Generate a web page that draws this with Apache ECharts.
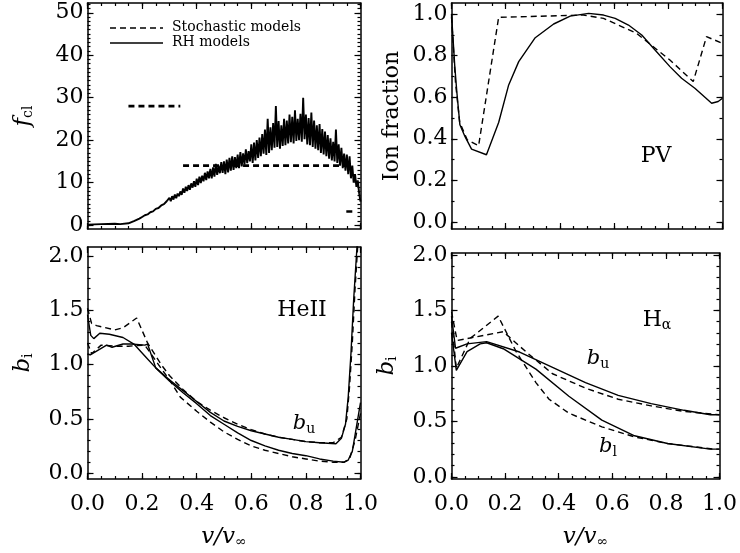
<!DOCTYPE html>
<html><head><meta charset="utf-8">
<script src="https://cdn.jsdelivr.net/npm/echarts@6/dist/echarts.min.js"></script>
<style>html,body{margin:0;padding:0;background:#fff}#c{width:740px;height:553px}</style>
</head><body><div id="c"></div>
<script>
// ---------- DATA ----------
const xTicks = [0, 0.2, 0.4, 0.6, 0.8, 1.0];
const fclTicks = [0, 10, 20, 30, 40, 50];
const ionTicks = [0, 0.2, 0.4, 0.6, 0.8, 1.0];
const bTicks = [0, 0.5, 1.0, 1.5, 2.0];

// Top-left: f_cl (stochastic model: three constant segments)
const fclStochasticA = [[0.15, 28], [0.34, 28]];
const fclStochasticB = [[0.35, 14], [0.948, 14]];
const fclStochasticC = [[0.948, 3.2], [0.97, 3.2]];
const fclRHSmooth = [[0, 0.1], [0.05, 0.2], [0.1, 0.3], [0.12, 0.2], [0.15, 0.4], [0.17, 0.9], [0.19, 1.5], [0.2, 1.9], [0.21, 2.3], [0.22, 2.5], [0.23, 3.0], [0.24, 3.2], [0.25, 3.8], [0.26, 4.0], [0.27, 4.6], [0.28, 4.9], [0.29, 5.6]];
const fclRHNoisyStart = 0.30, fclRHNoisyStep = 0.005;
const fclRHNoisy = [
  6.4, 5.6, 6.8, 6.0, 7.2, 6.3, 7.4, 6.8, 7.9, 7.1,
  8.6, 7.6, 9.0, 8.0, 9.4, 8.3, 9.8, 8.8, 10.3, 9.0,
  10.9, 9.4, 11.4, 9.9, 11.6, 10.3, 12.3, 10.6, 12.6, 11.0,
  13.2, 11.0, 13.6, 11.4, 14.4, 11.8, 14.0, 12.2, 14.8, 12.3,
  15.0, 12.0, 15.4, 12.4, 15.8, 12.8, 16.2, 13.0, 16.0, 13.4,
  16.6, 13.4, 17.2, 13.8, 16.9, 14.2, 17.8, 14.6, 17.4, 15.0,
  19.0, 14.6, 19.4, 15.2, 20.0, 15.8, 20.6, 16.2, 21.4, 16.8,
  22.5, 16.5, 25.0, 17.0, 23.0, 17.6, 24.0, 18.2, 28.0, 18.4,
  24.5, 18.0, 23.5, 18.6, 25.0, 18.8, 24.6, 19.2, 26.0, 19.5,
  25.5, 19.2, 27.0, 19.8, 25.0, 20.0, 26.2, 19.6, 30.0, 20.2,
  26.0, 19.0, 25.2, 18.8, 26.5, 18.4, 24.6, 18.0, 23.5, 17.6,
  23.8, 17.0, 22.6, 16.6, 22.0, 16.2, 21.2, 15.6, 20.4, 15.2,
  19.6, 15.0, 22.5, 14.6, 19.0, 14.0, 18.2, 13.4, 16.8, 12.8,
  16.6, 12.0, 16.2, 11.0, 14.0, 10.0, 12.0, 9.0, 10.5, 7.5,
  5.5
];

// Top-right: PV ion fraction
const pvRH = [[0, 1.0], [0.012, 0.75], [0.02, 0.62], [0.031, 0.467], [0.05, 0.41], [0.074, 0.35], [0.129, 0.323], [0.174, 0.478], [0.211, 0.659], [0.248, 0.771], [0.309, 0.886], [0.377, 0.952], [0.438, 0.99], [0.506, 1.003], [0.561, 0.995], [0.604, 0.979], [0.653, 0.947], [0.702, 0.899], [0.751, 0.827], [0.806, 0.747], [0.849, 0.691], [0.898, 0.643], [0.96, 0.571], [0.984, 0.579], [1.0, 0.595]];
const pvStochastic = [[0, 0.987], [0.015, 0.667], [0.03, 0.48], [0.058, 0.395], [0.1, 0.366], [0.174, 0.984], [0.487, 0.995], [0.561, 0.979], [0.683, 0.907], [0.806, 0.779], [0.892, 0.675], [0.941, 0.891], [1.0, 0.859]];

// Bottom-left: HeII departure coefficients
const heRHu = [[0, 1.46], [0.012, 1.27], [0.023, 1.24], [0.045, 1.29], [0.08, 1.28], [0.13, 1.25], [0.17, 1.19], [0.21, 1.08], [0.25, 0.97], [0.3, 0.86], [0.35, 0.76], [0.4, 0.66], [0.45, 0.56], [0.5, 0.48], [0.55, 0.43], [0.6, 0.39], [0.65, 0.36], [0.7, 0.33], [0.75, 0.31], [0.8, 0.29], [0.85, 0.28], [0.91, 0.27], [0.93, 0.32], [0.945, 0.45], [0.955, 0.7], [0.965, 1.1], [0.975, 1.6], [0.985, 2.0], [0.99, 2.2]];
const heRHl = [[0, 1.1], [0.01, 1.09], [0.03, 1.12], [0.07, 1.18], [0.09, 1.16], [0.13, 1.19], [0.16, 1.19], [0.21, 1.18], [0.22, 1.19], [0.25, 0.97], [0.3, 0.85], [0.35, 0.74], [0.4, 0.64], [0.45, 0.53], [0.5, 0.45], [0.55, 0.37], [0.6, 0.3], [0.65, 0.25], [0.7, 0.21], [0.75, 0.18], [0.8, 0.16], [0.85, 0.13], [0.9, 0.11], [0.94, 0.1], [0.955, 0.12], [0.97, 0.2], [0.98, 0.35], [0.99, 0.5], [1.0, 0.65]];
const heStu = [[0, 1.52], [0.015, 1.38], [0.033, 1.36], [0.1, 1.32], [0.13, 1.34], [0.18, 1.43], [0.22, 1.2], [0.27, 1.0], [0.3, 0.9], [0.35, 0.77], [0.4, 0.66], [0.45, 0.58], [0.5, 0.51], [0.55, 0.45], [0.6, 0.4], [0.65, 0.36], [0.7, 0.33], [0.75, 0.31], [0.8, 0.29], [0.85, 0.28], [0.9, 0.28], [0.93, 0.33], [0.95, 0.5], [0.96, 0.8], [0.97, 1.2], [0.98, 1.7], [0.99, 2.1]];
const heStl = [[0, 1.2], [0.015, 1.1], [0.05, 1.18], [0.1, 1.17], [0.15, 1.17], [0.21, 1.18], [0.26, 1.0], [0.3, 0.86], [0.34, 0.7], [0.4, 0.57], [0.45, 0.47], [0.5, 0.38], [0.55, 0.31], [0.6, 0.25], [0.65, 0.21], [0.7, 0.18], [0.75, 0.15], [0.8, 0.13], [0.85, 0.11], [0.9, 0.1], [0.94, 0.1], [0.96, 0.13], [0.98, 0.3], [1.0, 0.55]];

// Bottom-right: H-alpha departure coefficients
const haRHu = [[0, 1.45], [0.015, 1.16], [0.058, 1.2], [0.131, 1.22], [0.254, 1.126], [0.377, 0.988], [0.5, 0.85], [0.622, 0.735], [0.745, 0.66], [0.868, 0.6], [0.966, 0.56], [1.0, 0.56]];
const haRHl = [[0, 1.3], [0.018, 0.96], [0.058, 1.13], [0.107, 1.2], [0.131, 1.21], [0.193, 1.156], [0.315, 0.972], [0.438, 0.727], [0.561, 0.512], [0.683, 0.37], [0.806, 0.3], [0.966, 0.25], [1.0, 0.25]];
const haStu = [[0, 1.49], [0.021, 1.23], [0.193, 1.31], [0.279, 1.126], [0.377, 0.93], [0.5, 0.8], [0.622, 0.7], [0.745, 0.64], [0.868, 0.59], [1.0, 0.56]];
const haStl = [[0, 1.4], [0.018, 0.98], [0.07, 1.25], [0.174, 1.45], [0.242, 1.126], [0.315, 0.85], [0.364, 0.7], [0.438, 0.574], [0.561, 0.451], [0.683, 0.36], [0.806, 0.3], [0.978, 0.25], [1.0, 0.25]];

// ---------- BUILD ----------
const FONT = 'DejaVu Serif';
const fclRH = fclRHSmooth.concat(fclRHNoisy.map((v, i) => [+(fclRHNoisyStart + i * fclRHNoisyStep).toFixed(3), v]));

const grids = [
  {left: 87.5, top: 3, width: 273, height: 226},
  {left: 451.5, top: 3, width: 271, height: 226},
  {left: 87.5, top: 247, width: 273, height: 232},
  {left: 451.5, top: 253, width: 271, height: 226}
];

function range(a, b, s) { const r = []; for (let v = a; v <= b + 1e-9; v += s) r.push(+v.toFixed(4)); return r; }
const panels = [
  {ymin: -0.94, ymax: 52.3, yMaj: fclTicks, yMin: range(0, 52, 1), yFmt: v => String(v), xLab: false, yName: '{it|f}{sub|cl}'},
  {ymin: -0.034, ymax: 1.053, yMaj: ionTicks, yMin: range(0, 1.0, 0.1), yFmt: v => v.toFixed(1), xLab: false, yName: 'Ion fraction'},
  {ymin: -0.055, ymax: 2.085, yMaj: bTicks, yMin: range(0, 2.0, 0.1), yFmt: v => v.toFixed(1), xLab: true, yName: '{it|b}{sub|i}'},
  {ymin: -0.02, ymax: 2.02, yMaj: bTicks, yMin: range(0, 2.0, 0.1), yFmt: v => v.toFixed(1), xLab: true, yName: '{it|b}{sub|i}'}
];
const xMinorVals = range(0, 1, 0.05);
const richName = {
  it: {fontFamily: FONT, fontStyle: 'italic', fontSize: 23, color: '#000'},
  sub: {fontFamily: FONT, fontSize: 14, color: '#000', padding: [10, 0, 0, 0]}
};
const frame = {color: '#000', width: 1.5};
const tick = {color: '#000', width: 1.2};
const xAxes = [], yAxes = [];
panels.forEach((p, g) => {
  const xb = {type: 'value', gridIndex: g, min: 0, max: 1, splitLine: {show: false}, axisLabel: {show: false}};
  xAxes.push(Object.assign({}, xb, {position: 'bottom',
    axisLine: {show: true, onZero: false, lineStyle: frame},
    axisTick: {inside: true, length: 6, customValues: xTicks, lineStyle: tick},
    axisLabel: {show: p.xLab, customValues: xTicks, formatter: v => v.toFixed(1), fontFamily: FONT, fontSize: 22, color: '#000', margin: 14},
    name: p.xLab ? '{it|v/v}{sub|∞}' : '', nameLocation: 'middle', nameGap: 46, nameTextStyle: {rich: richName}}));
  xAxes.push(Object.assign({}, xb, {position: 'bottom', axisLine: {show: false, onZero: false},
    axisTick: {inside: true, length: 3, customValues: xMinorVals, lineStyle: tick}}));
  xAxes.push(Object.assign({}, xb, {position: 'top', axisLine: {show: true, onZero: false, lineStyle: frame},
    axisTick: {inside: true, length: 6, customValues: xTicks, lineStyle: tick}}));
  xAxes.push(Object.assign({}, xb, {position: 'top', axisLine: {show: false, onZero: false},
    axisTick: {inside: true, length: 3, customValues: xMinorVals, lineStyle: tick}}));

  const yb = {type: 'value', gridIndex: g, min: p.ymin, max: p.ymax, splitLine: {show: false}, axisLabel: {show: false}};
  yAxes.push(Object.assign({}, yb, {position: 'left',
    axisLine: {show: true, onZero: false, lineStyle: frame},
    axisTick: {inside: true, length: 6, customValues: p.yMaj, lineStyle: tick},
    axisLabel: {show: true, customValues: p.yMaj, formatter: p.yFmt, fontFamily: FONT, fontSize: 22, color: '#000', margin: 4},
    name: p.yName, nameLocation: 'middle', nameGap: g === 1 ? 48 : 52, nameRotate: 90,
    nameTextStyle: {fontFamily: FONT, fontSize: 22, color: '#000', rich: richName}}));
  yAxes.push(Object.assign({}, yb, {position: 'left', axisLine: {show: false, onZero: false},
    axisTick: {inside: true, length: 3, customValues: p.yMin, lineStyle: tick}}));
  yAxes.push(Object.assign({}, yb, {position: 'right', axisLine: {show: true, onZero: false, lineStyle: frame},
    axisTick: {inside: true, length: 6, customValues: p.yMaj, lineStyle: tick}}));
  yAxes.push(Object.assign({}, yb, {position: 'right', axisLine: {show: false, onZero: false},
    axisTick: {inside: true, length: 3, customValues: p.yMin, lineStyle: tick}}));
});

function line(g, data, dashed, width) {
  return {type: 'line', xAxisIndex: 4 * g, yAxisIndex: 4 * g, data: data, symbol: 'none',
    lineStyle: {color: '#000', width: width || 1.4, type: dashed ? [6, 4] : 'solid'}};
}
const series = [
  line(0, fclStochasticA, true, 2.6), line(0, fclStochasticB, true, 2.6), line(0, fclStochasticC, true, 2.6),
  line(0, fclRH, false, 1.9),
  line(1, pvRH, false), line(1, pvStochastic, true),
  line(2, heRHu, false), line(2, heRHl, false), line(2, heStu, true), line(2, heStl, true),
  line(3, haRHu, false), line(3, haRHl, false), line(3, haStu, true), line(3, haStl, true)
];

const annRich = {
  n: {fontFamily: FONT, fontSize: 22, color: '#000'},
  it: {fontFamily: FONT, fontStyle: 'italic', fontSize: 21, color: '#000'},
  sub: {fontFamily: FONT, fontSize: 14, color: '#000', padding: [10, 0, 0, 0]}
};
function txt(x, y, t) {
  return {type: 'text', x: x, y: y, style: {text: t, rich: annRich, align: 'center', verticalAlign: 'middle'}};
}

const chart = echarts.init(document.getElementById('c'));
chart.setOption({
  animation: false,
  backgroundColor: '#fff',
  grid: grids,
  xAxis: xAxes,
  yAxis: yAxes,
  series: series,
  graphic: [
    {type: 'line', shape: {x1: 110, y1: 28, x2: 163, y2: 28}, style: {stroke: '#000', lineWidth: 1.4, lineDash: [6, 4]}},
    {type: 'line', shape: {x1: 110, y1: 43, x2: 163, y2: 43}, style: {stroke: '#000', lineWidth: 1.4}},
    {type: 'text', x: 172, y: 27, style: {text: 'Stochastic models', fontFamily: FONT, fontSize: 14, fill: '#000', verticalAlign: 'middle'}},
    {type: 'text', x: 172, y: 42, style: {text: 'RH models', fontFamily: FONT, fontSize: 14, fill: '#000', verticalAlign: 'middle'}},
    txt(302, 310, '{n|HeII}'),
    txt(656, 156, '{n|PV}'),
    txt(657, 320, '{n|H}{sub|α}'),
    txt(304, 424, '{it|b}{sub|u}'),
    txt(598, 359, '{it|b}{sub|u}'),
    txt(608, 447, '{it|b}{sub|l}')
  ]
});
</script></body></html>
